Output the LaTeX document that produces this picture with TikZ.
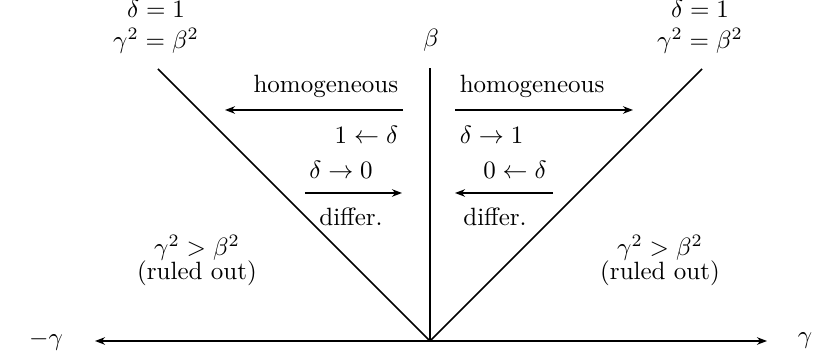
\documentclass[tikz,border=0pt]{standalone}
\usepackage{amsmath}
\usepackage{amssymb}
\usetikzlibrary{arrows.meta}
\usetikzlibrary{positioning}

\begin{document}
\begin{tikzpicture}[x=40pt,y=40pt,
        axis/.style={thick,-{Stealth[length=4pt,width=3pt]}},
        flow/.style={thick,-{Stealth[length=4pt,width=3pt]}},
        border/.style={semithick}]
                \useasboundingbox (-4.30,-0.13) rectangle (3.93,3.41);

                \coordinate (O) at (0,0);
                \coordinate (Gm) at (-3.35,0);
                \coordinate (Gp) at (3.37,0);
                \coordinate (B) at (0,2.73);
                \coordinate (TL) at (-2.72,2.72);
                \coordinate (TR) at (2.72,2.72);

                \draw[axis] (O) -- (Gm);
                \draw[axis] (O) -- (Gp);
                \draw[thick] (O) -- (B);
                \draw[border] (O) -- (TL);
                \draw[border] (O) -- (TR);

                \node (gml) at (-3.84,0) {$-\gamma$};
                \node (gpl) at (3.75,0) {$\gamma$};
                \node (bl) at (0.01,3.01) {$\beta$};
                \node[align=center,inner sep=1pt] (lineL) at (-2.74,3.14) {$\delta=1$\\[0.5pt]$\gamma^2=\beta^2$};
                \node[align=center,inner sep=1pt] (lineR) at (2.70,3.14) {$\delta=1$\\[0.5pt]$\gamma^2=\beta^2$};

                % homogeneous
                \coordinate (hL1) at (-0.27,2.31);
                \coordinate (hL2) at (-2.05,2.31);
                \coordinate (hR1) at (0.25,2.31);
                \coordinate (hR2) at (2.03,2.31);
                \draw[flow] (hL1) -- (hL2);
                \draw[flow] (hR1) -- (hR2);
                \node[anchor=east] (homL) at (-0.23,2.55) {homogeneous};
                \node[anchor=west] (homR) at (0.21,2.55) {homogeneous};
                \node[anchor=east] (limL) at (-0.23,2.06) {$1\leftarrow\delta$};
                \node[anchor=west] (limR) at (0.21,2.06) {$\delta\rightarrow 1$};

                % differentiable
                \coordinate (dL1) at (-1.25,1.48);
                \coordinate (dL2) at (-0.28,1.48);
                \coordinate (dR1) at (1.23,1.48);
                \coordinate (dR2) at (0.25,1.48);
                \draw[flow] (dL1) -- (dL2);
                \draw[flow] (dR1) -- (dR2);
                \node (zeroL) at (-0.89,1.71) {$\delta\rightarrow 0$};
                \node (zeroR) at (0.85,1.71) {$0\leftarrow\delta$};
                \node (difL) at (-0.79,1.24) {differ.};
                \node (difR) at (0.65,1.24) {differ.};

                \node (inL) at (-2.33,0.93) {$\gamma^2>\beta^2$};
                \node (outL) at (-2.33,0.68) {(ruled out)};
                \node (inR) at (2.30,0.93) {$\gamma^2>\beta^2$};
                \node (outR) at (2.30,0.68) {(ruled out)};
            \end{tikzpicture}
\end{document}
